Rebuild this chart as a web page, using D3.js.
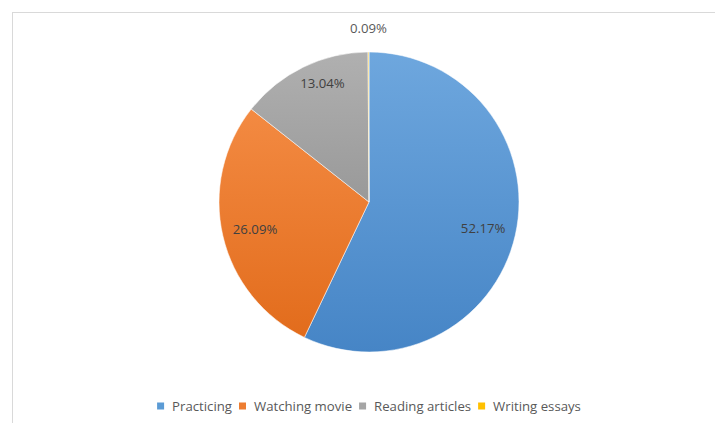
<!DOCTYPE html>
<html>
<head>
<meta charset="utf-8">
<script src="https://cdn.jsdelivr.net/npm/d3@7"></script>
<style>
  html, body { margin: 0; padding: 0; background: #fff; }
  svg { display: block; }
</style>
</head>
<body>
<svg id="chart" width="715" height="423"></svg>
<script>
// Share of time spent on each activity
const categories = ["Practicing", "Watching movie", "Reading articles", "Writing essays"];
const values = [52.17, 26.09, 13.04, 0.09];
const valueLabels = ["52.17%", "26.09%", "13.04%", "0.09%"];

// Fill colours: [top, bottom] of each slice's vertical gradient, legend swatch
const sliceColors = [
  { top: "#6ea7de", bottom: "#4685c6", swatch: "#5b9bd5" },
  { top: "#f38a42", bottom: "#e26c1c", swatch: "#ed7d31" },
  { top: "#b0b0b0", bottom: "#999999", swatch: "#a5a5a5" },
  { top: "#ffc82a", bottom: "#f5b800", swatch: "#ffc000" }
];

const W = 715, H = 423;
const svg = d3.select("#chart");
const font = "'Open Sans', 'Noto Sans', sans-serif";

// Chart area frame
svg.append("rect")
  .attr("x", 12.5).attr("y", 12.5)
  .attr("width", W).attr("height", H)
  .attr("fill", "#fff")
  .attr("stroke", "#d9d9d9")
  .attr("stroke-width", 1);

const cx = 369, cy = 202, r = 150;

const defs = svg.append("defs");
sliceColors.forEach((c, i) => {
  const g = defs.append("linearGradient")
    .attr("id", "grad" + i)
    .attr("x1", 0).attr("y1", 0).attr("x2", 0).attr("y2", 1);
  g.append("stop").attr("offset", "0%").attr("stop-color", c.top);
  g.append("stop").attr("offset", "100%").attr("stop-color", c.bottom);
});

const pie = d3.pie().sort(null).value(d => d)(values);
const arc = d3.arc().innerRadius(0).outerRadius(r);

const g = svg.append("g").attr("transform", `translate(${cx},${cy})`);

g.selectAll("path.slice")
  .data(pie)
  .join("path")
  .attr("class", "slice")
  .attr("d", arc)
  .attr("fill", (d, i) => `url(#grad${i})`)
  .attr("stroke", "#ffffff")
  .attr("stroke-opacity", 0.7)
  .attr("stroke-width", 0.75);

// Data labels: inside the slice, pushed outward (and turned toward the
// wider neighbour) for narrow slices, and outside the pie for very thin ones
function labelPos(d) {
  const span = d.endAngle - d.startAngle;
  let mid = (d.startAngle + d.endAngle) / 2;
  let rr;
  if (span < 0.05) rr = r + 24;
  else if (span < 1.05) { rr = r * 0.85; mid += span * 0.09; }
  else rr = r * 0.78;
  return [Math.sin(mid) * rr, -Math.cos(mid) * rr];
}

g.selectAll("text.label")
  .data(pie)
  .join("text")
  .attr("class", "label")
  .attr("x", d => labelPos(d)[0])
  .attr("y", d => labelPos(d)[1])
  .attr("text-anchor", "middle")
  .attr("dominant-baseline", "central")
  .attr("font-family", font)
  .attr("font-size", 13.2)
  .attr("fill", (d, i) => i === 3 ? "#595959" : "#404040")
  .text((d, i) => valueLabels[i]);

// Legend, centred below the pie
const legend = svg.append("g");
const sw = 7, gapAfterSwatch = 8, gapBetween = 7, legendY = 406;
let x = 0;
categories.forEach((name, i) => {
  const item = legend.append("g");
  item.append("rect")
    .attr("x", x).attr("y", legendY - sw / 2)
    .attr("width", sw).attr("height", sw)
    .attr("fill", sliceColors[i].swatch);
  const t = item.append("text")
    .attr("x", x + sw + gapAfterSwatch)
    .attr("y", legendY)
    .attr("dominant-baseline", "central")
    .attr("font-family", font)
    .attr("font-size", 13.2)
    .attr("fill", "#595959")
    .text(name);
  x += sw + gapAfterSwatch + t.node().getComputedTextLength() + gapBetween;
});
const totalW = x - gapBetween;
legend.attr("transform", `translate(${cx - totalW / 2},0)`);
</script>
</body>
</html>
